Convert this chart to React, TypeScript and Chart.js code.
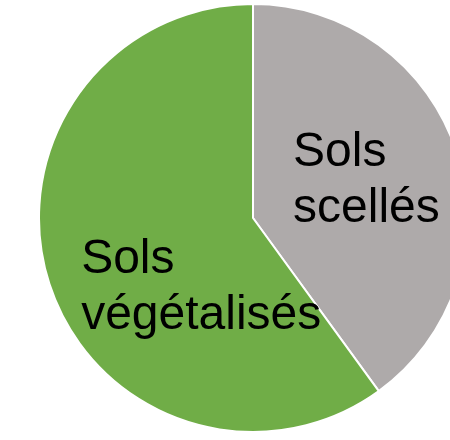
import React, { useEffect, useRef } from "react";
import { Chart, registerables } from "chart.js";

Chart.register(...registerables);

const categories = ["Sols scellés", "Sols végétalisés"];
const values = [40, 60];
const colors = ["#AEAAAA", "#70AD47"];
const labelLines = [["Sols", "scellés"], ["Sols", "végétalisés"]];

// label anchor offsets relative to pie centre, as fractions of radius
const labelOffsets = [
  { dx: 0.187, dy: -0.243 },
  { dx: -0.803, dy: 0.257 },
];

const sliceLabels = {
  id: "sliceLabels",
  afterDatasetsDraw(chart: any) {
    const meta = chart.getDatasetMeta(0);
    const ctx = chart.ctx;
    ctx.save();
    ctx.font = '48px "Liberation Sans", Arial, sans-serif';
    ctx.fillStyle = "#000000";
    ctx.textAlign = "left";
    ctx.textBaseline = "alphabetic";
    meta.data.forEach((arc: any, i: number) => {
      const r = arc.outerRadius;
      const x = arc.x + labelOffsets[i].dx * r;
      const y = arc.y + labelOffsets[i].dy * r;
      labelLines[i].forEach((line, j) => {
        ctx.fillText(line, x, y + j * 56);
      });
    });
    ctx.restore();
  },
};

export default function App() {
  const ref = useRef<HTMLCanvasElement>(null);
  useEffect(() => {
    document.body.style.overflow = "hidden";
    const chart = new Chart(ref.current!, {
      type: "pie",
      data: {
        labels: categories,
        datasets: [
          {
            data: values,
            backgroundColor: colors,
            borderColor: "#FFFFFF",
            borderWidth: 2,
          },
        ],
      },
      options: {
        responsive: false,
        animation: false,
        devicePixelRatio: 1,
        layout: { padding: 3 },
        plugins: {
          legend: { display: false },
          tooltip: { enabled: false },
        },
      },
      plugins: [sliceLabels],
    });
    return () => chart.destroy();
  }, []);
  return (
    <div style={{ position: "absolute", left: 0, top: 0, width: 506, height: 436, background: "#fff" }}>
      <canvas ref={ref} width={506} height={436} />
    </div>
  );
}
